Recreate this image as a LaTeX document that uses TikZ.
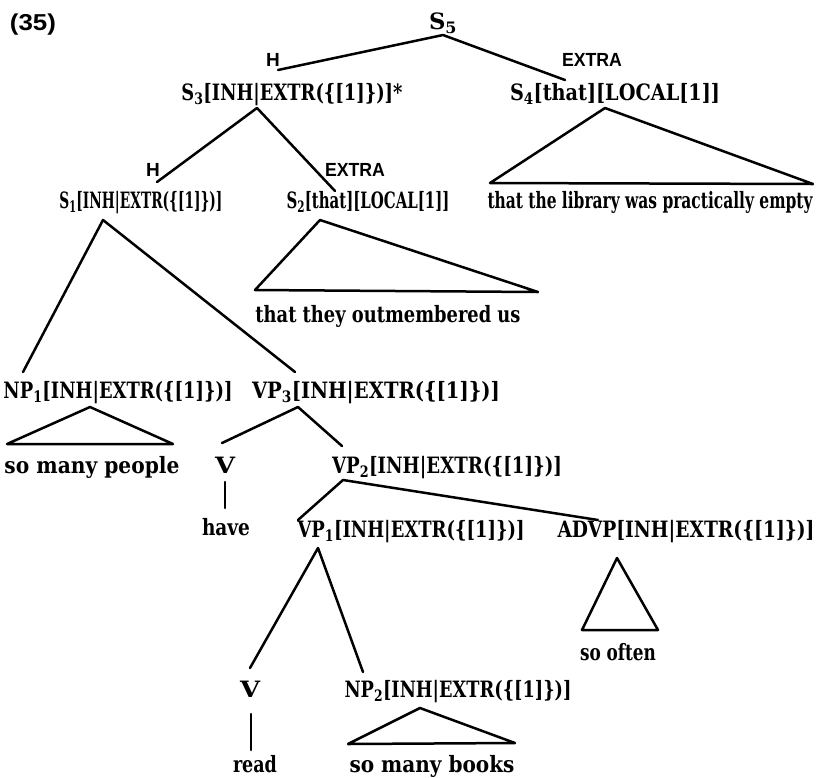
\documentclass[tikz,border=0pt]{standalone}
\usepackage{fontspec}
\usepackage{graphicx}
\setmainfont{DejaVu Serif}
\newfontfamily\labfont{Liberation Sans}
% squeeze a label horizontally to a given width (in pt), keeping its height
\newcommand{\fw}[2]{\resizebox{#1pt}{\height}{#2}}
\newcommand{\inhx}{[INH|EXTR(\{[1]\})]}
\begin{document}
\begin{tikzpicture}[x=1pt,y=-1pt,
  cat/.style={font=\fontsize{22.5}{26}\selectfont\bfseries, inner sep=0pt, anchor=base},
  rel/.style={font=\fontsize{19}{22}\selectfont\labfont\bfseries, inner sep=0pt, anchor=base},
  branch/.style={line width=2.5pt, line cap=round, line join=round}]
\useasboundingbox (0,0) rectangle (826,777);

% example number
\node[cat, font=\fontsize{23}{26}\selectfont\labfont\bfseries] (num) at (33,30) {\fw{46}{(35)}};

% categories
\node[cat] (s5) at (443,29) {\fw{28}{S\textsubscript{5}}};
\node[cat] (s3) at (292,100) {\fw{221}{S\textsubscript{3}\inhx*}};
\node[cat] (s4) at (615,100) {\fw{210}{S\textsubscript{4}[that][LOCAL[1]]}};
\node[cat] (s1) at (141,208) {\fw{163}{S\textsubscript{1}\inhx}};
\node[cat] (s2) at (368,208) {\fw{163}{S\textsubscript{2}[that][LOCAL[1]]}};
\node[cat] (np1) at (118,398) {\fw{229}{NP\textsubscript{1}\inhx}};
\node[cat] (vp3) at (376,398) {\fw{248}{VP\textsubscript{3}\inhx}};
\node[cat] (v1) at (225,473) {\fw{20}{V}};
\node[cat] (vp2) at (447,473) {\fw{230}{VP\textsubscript{2}\inhx}};
\node[cat] (vp1) at (411,537) {\fw{227}{VP\textsubscript{1}\inhx}};
\node[cat] (advp) at (686,537) {\fw{257}{ADVP\inhx}};
\node[cat] (v2) at (250,697) {\fw{20}{V}};
\node[cat] (np2) at (458,697) {\fw{227}{NP\textsubscript{2}\inhx}};

% words
\node[cat] (w4) at (650,208) {\fw{325}{that the library was practically empty}};
\node[cat] (w2) at (388,322) {\fw{265}{that they outmembered us}};
\node[cat] (wnp1) at (92,473) {\fw{175}{so many people}};
\node[cat] (whave) at (226,535) {\fw{48}{have}};
\node[cat] (wadv) at (618,660) {\fw{76}{so often}};
\node[cat] (wread) at (255,772) {\fw{44}{read}};
\node[cat] (wnp2) at (432,772) {\fw{165}{so many books}};

% relation labels
\node[rel] (h1) at (273,66) {H};
\node[rel] (x1) at (592,66) {\fw{60}{EXTRA}};
\node[rel] (h2) at (153,176) {H};
\node[rel] (x2) at (355,176) {\fw{60}{EXTRA}};

% attachment points of the branches
\coordinate (s5b) at (443,35);
\coordinate (s3t) at (278,70);
\coordinate (s4t) at (565,80);
\coordinate (s3b) at (257,108);
\coordinate (s1t) at (157,182);
\coordinate (s2t) at (335,191);
\coordinate (s4b) at (605,108);
\coordinate (s4l) at (490,183);
\coordinate (s4r) at (813,184);
\coordinate (s1b) at (103,220);
\coordinate (np1t) at (23,372);
\coordinate (vp3t) at (295,372);
\coordinate (s2b) at (320,220);
\coordinate (s2l) at (255,290);
\coordinate (s2r) at (538,292);
\coordinate (np1b) at (90,407);
\coordinate (np1l) at (7,444);
\coordinate (np1r) at (173,444);
\coordinate (vp3b) at (298,407);
\coordinate (v1t) at (222,443);
\coordinate (vp2t) at (342,446);
\coordinate (v1b) at (225,482);
\coordinate (havet) at (225,508);
\coordinate (vp2b) at (343,480);
\coordinate (vp1t) at (298,520);
\coordinate (advpt) at (598,520);
\coordinate (vp1b) at (318,548);
\coordinate (v2t) at (250,668);
\coordinate (np2t) at (363,672);
\coordinate (advpb) at (617,558);
\coordinate (advpl) at (582,630);
\coordinate (advpr) at (658,630);
\coordinate (v2b) at (251,714);
\coordinate (readt) at (251,750);
\coordinate (np2b) at (420,708);
\coordinate (np2l) at (348,744);
\coordinate (np2r) at (515,743);

% branches
\draw[branch] (s3t) -- (s5b) -- (s4t);
\draw[branch] (s1t) -- (s3b) -- (s2t);
\draw[branch] (np1t) -- (s1b) -- (vp3t);
\draw[branch] (v1t) -- (vp3b) -- (vp2t);
\draw[branch] (v1b) -- (havet);
\draw[branch] (vp1t) -- (vp2b) -- (advpt);
\draw[branch] (v2t) -- (vp1b) -- (np2t);
\draw[branch] (v2b) -- (readt);

% roof triangles
\draw[branch] (s4l) -- (s4b) -- (s4r) -- cycle;
\draw[branch] (s2l) -- (s2b) -- (s2r) -- cycle;
\draw[branch] (np1l) -- (np1b) -- (np1r) -- cycle;
\draw[branch] (advpl) -- (advpb) -- (advpr) -- cycle;
\draw[branch] (np2l) -- (np2b) -- (np2r) -- cycle;
\end{tikzpicture}
\end{document}
